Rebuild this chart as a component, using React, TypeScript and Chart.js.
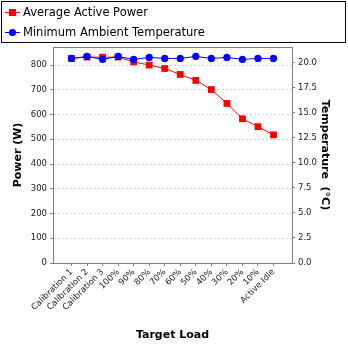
import React, { useEffect, useRef } from "react";
import { Chart, registerables } from "chart.js";

Chart.register(...registerables);

const categories = [
  "Calibration 1", "Calibration 2", "Calibration 3", "100%", "90%", "80%", "70%",
  "60%", "50%", "40%", "30%", "20%", "10%", "Active Idle",
];
const powerValues = [827, 832, 832, 832, 813, 800, 786, 762, 738, 701, 645, 583, 551, 518];
const temperatureValues = [20.4, 20.6, 20.3, 20.6, 20.3, 20.5, 20.4, 20.4, 20.6, 20.4, 20.5, 20.3, 20.4, 20.4];
const powerLabel = "Average Active Power";
const temperatureLabel = "Minimum Ambient Temperature";
const xTitle = "Target Load";
const yLeftTitle = "Power (W)";
const yRightTitle = "Temperature  (°C)";

const FONT = "'DejaVu Sans', sans-serif";

const boxLegend = {
  id: "boxLegend",
  afterDraw(chart: any) {
    const ctx = chart.ctx;
    ctx.save();
    ctx.strokeStyle = "#000";
    ctx.lineWidth = 1;
    ctx.strokeRect(1.5, 1.5, 344, 41);
    chart.data.datasets.forEach((ds: any, i: number) => {
      const y = 12 + i * 20;
      ctx.strokeStyle = ds.borderColor;
      ctx.lineWidth = 1;
      ctx.beginPath();
      ctx.moveTo(5, y + 0.5);
      ctx.lineTo(20, y + 0.5);
      ctx.stroke();
      ctx.fillStyle = ds.backgroundColor;
      if (ds.pointStyle === "rect") {
        ctx.fillRect(9, y - 3, 7, 7);
      } else {
        ctx.beginPath();
        ctx.arc(12.5, y + 0.5, 3.6, 0, Math.PI * 2);
        ctx.fill();
      }
      ctx.fillStyle = "#000";
      ctx.font = `11.5px ${FONT}`;
      ctx.textBaseline = "middle";
      ctx.textAlign = "left";
      ctx.fillText(ds.label, 23, y + 1);
    });
    const a = chart.chartArea;
    ctx.strokeStyle = "#808080";
    ctx.beginPath();
    ctx.moveTo(a.left, a.top + 0.5);
    ctx.lineTo(a.right, a.top + 0.5);
    ctx.stroke();
    ctx.restore();
  },
};

export default function App() {
  const ref = useRef<HTMLCanvasElement | null>(null);
  useEffect(() => {
    document.body.style.margin = "0";
    const tickFont = { family: FONT, size: 8.5 };
    const titleFont = { family: FONT, size: 11, weight: "bold" as const };
    const chart = new Chart(ref.current!, {
      type: "line",
      data: {
        datasets: [
          {
            label: powerLabel,
            data: powerValues.map((v, i) => ({ x: i, y: v })),
            borderColor: "#ff0000",
            backgroundColor: "#ff0000",
            borderWidth: 1,
            pointStyle: "rect",
            pointRadius: 4.8,
            pointBorderWidth: 0,
            yAxisID: "y",
            order: 2,
          },
          {
            label: temperatureLabel,
            data: temperatureValues.map((v, i) => ({ x: i, y: v })),
            borderColor: "#0000ff",
            backgroundColor: "#0000ff",
            borderWidth: 1,
            pointStyle: "circle",
            pointRadius: 3.6,
            pointBorderWidth: 0,
            yAxisID: "y1",
            order: 1,
          },
        ],
      },
      plugins: [boxLegend],
      options: {
        responsive: false,
        animation: false,
        layout: { padding: { top: 47, left: 0, right: 0, bottom: 0 } },
        plugins: { legend: { display: false }, tooltip: { enabled: false } },
        scales: {
          x: {
            type: "linear",
            min: -1.19,
            max: 14.19,
            afterBuildTicks: (s: any) => {
              s.ticks = categories.map((_, i) => ({ value: i }));
            },
            afterFit: (s: any) => {
              s.height = 85;
            },
            ticks: {
              autoSkip: false,
              minRotation: 45,
              maxRotation: 45,
              padding: 1,
              color: "#222",
              font: tickFont,
              callback: (v: any) => categories[v as number] ?? "",
            },
            grid: {
              drawOnChartArea: false,
              tickLength: 3,
              tickColor: "#808080",
            },
            border: { color: "#808080" },
            title: {
              display: true,
              text: xTitle,
              color: "#000",
              font: titleFont,
              padding: { top: 0, bottom: 6 },
            },
          },
          y: {
            position: "left",
            min: 0,
            max: 873,
            afterFit: (s: any) => {
              s.width = 53;
            },
            ticks: {
              stepSize: 100,
              includeBounds: false,
              padding: 3,
              color: "#222",
              font: tickFont,
            },
            grid: {
              color: "#d4d4d4",
              tickLength: 3,
              tickColor: "#808080",
              tickBorderDash: [],
            } as any,
            border: { color: "#808080", dash: [2, 2] },
            title: {
              display: true,
              text: yLeftTitle,
              color: "#000",
              font: titleFont,
              padding: { top: 12, bottom: 0 },
            },
          },
          y1: {
            position: "right",
            min: 0,
            max: 21.54,
            afterFit: (s: any) => {
              s.width = 56;
            },
            ticks: {
              stepSize: 2.5,
              includeBounds: false,
              padding: 3,
              color: "#222",
              font: tickFont,
              callback: (v: any) => Number(v).toFixed(1),
            },
            grid: {
              drawOnChartArea: false,
              tickLength: 3,
              tickColor: "#808080",
            },
            border: { color: "#808080" },
            title: {
              display: true,
              text: yRightTitle,
              color: "#000",
              font: titleFont,
              padding: { top: 17, bottom: 0 },
            },
          },
        },
      },
    });
    return () => chart.destroy();
  }, []);
  return (
    <div style={{ position: "absolute", left: 0, top: 0, width: 348, height: 348, background: "#fff" }}>
      <canvas ref={ref} width={348} height={348} style={{ width: 348, height: 348 }} />
    </div>
  );
}
